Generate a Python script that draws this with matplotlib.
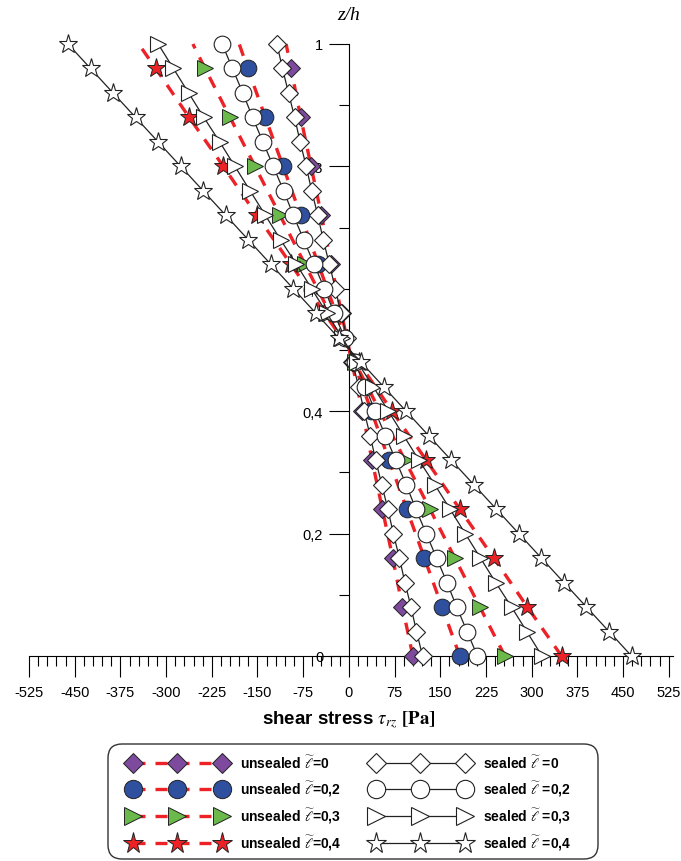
import numpy as np
import matplotlib
matplotlib.use("Agg")
import matplotlib.pyplot as plt
from matplotlib.patches import FancyBboxPatch

plt.rcParams['font.family'] = ['Liberation Sans', 'DejaVu Sans']
plt.rcParams['mathtext.fontset'] = 'stix'
plt.rcParams['axes.unicode_minus'] = False

# z/h levels of the sealed curves (marker every 0.04)
z_sealed = [0.00, 0.04, 0.08, 0.12, 0.16, 0.20, 0.24, 0.28, 0.32, 0.36, 0.40, 0.44, 0.48,
            0.52, 0.56, 0.60, 0.64, 0.68, 0.72, 0.76, 0.80, 0.84, 0.88, 0.92, 0.96, 1.00]
# z/h levels of the unsealed curves (marker every 0.08, line runs to 1)
z_unsealed = [0.00, 0.08, 0.16, 0.24, 0.32, 0.40, 0.48, 0.56, 0.64, 0.72, 0.80, 0.88, 0.96, 1.00]

# shear stress [Pa]
sealed_0 = [121, 111, 102, 92, 83, 73, 64, 54, 44, 35, 25, 16, 6,
            -3, -13, -22, -32, -42, -51, -61, -70, -80, -89, -99, -109, -118]
sealed_02 = [211, 194, 177, 161, 144, 127, 110, 94, 77, 60, 43, 27, 10,
             -7, -24, -40, -57, -74, -91, -107, -124, -141, -158, -174, -191, -208]
sealed_03 = [317, 292, 267, 241, 216, 191, 166, 141, 115, 90, 65, 40, 14,
             -11, -36, -61, -86, -112, -137, -162, -187, -212, -238, -263, -288, -313]
sealed_04 = [464, 427, 390, 353, 316, 279, 242, 205, 168, 131, 94, 57, 20,
             -17, -54, -91, -128, -165, -202, -239, -276, -313, -350, -387, -424, -461]

unsealed_0 = [105, 88, 72, 55, 38, 22, 5, -12, -29, -45, -62, -79, -95, -103]
unsealed_02 = [182, 153, 124, 95, 66, 37, 8, -21, -50, -79, -108, -137, -166, -180]
unsealed_03 = [256, 215, 174, 133, 92, 51, 10, -31, -72, -113, -154, -195, -236, -256]
unsealed_04 = [349, 293, 238, 182, 127, 71, 16, -40, -95, -151, -206, -262, -317, -345]

unsealed_labels = [r'unsealed $\widetilde{\ell}$=0', r'unsealed $\widetilde{\ell}$=0,2',
                   r'unsealed $\widetilde{\ell}$=0,3', r'unsealed $\widetilde{\ell}$=0,4']
sealed_labels = [r'sealed $\widetilde{\ell}$ =0', r'sealed $\widetilde{\ell}$ =0,2',
                 r'sealed $\widetilde{\ell}$ =0,3', r'sealed $\widetilde{\ell}$ =0,4']

x_ticks = [-525, -450, -375, -300, -225, -150, -75, 0, 75, 150, 225, 300, 375, 450, 525]
y_ticks = [0, 0.2, 0.4, 0.6, 0.8, 1]
y_ticklabels = ['0', '0,2', '0,4', '0,6', '0,8', '1']

fig = plt.figure(figsize=(6.81, 8.62), dpi=100)
ax = fig.add_axes([29 / 681, 1 - 657 / 862, 644 / 681, 612 / 862])

red = '#ec2227'
unsealed_style = [('D', '#7e4a9e', 9.0), ('o', '#2f4f9f', 12), ('>', '#6ab94a', 12), ('*', red, 14)]
sealed_style = [('D', 9.0), ('o', 12), ('>', 12), ('*', 14)]

handles = []
for vals, (mk, col, ms), lab in zip([unsealed_0, unsealed_02, unsealed_03, unsealed_04],
                                     unsealed_style, unsealed_labels):
    h, = ax.plot(vals, z_unsealed, color=red, lw=2.4, linestyle=(0, (3.6, 3.0)),
                 marker=mk, ms=ms, mfc=col, mec='#222222', mew=0.7,
                 markevery=slice(0, 13), clip_on=False, zorder=3, label=lab)
    handles.append(h)

for vals, (mk, ms), lab in zip([sealed_0, sealed_02, sealed_03, sealed_04],
                               sealed_style, sealed_labels):
    h, = ax.plot(vals, z_sealed, color='#222222', lw=0.9, marker=mk, ms=ms,
                 mfc='white', mec='#222222', mew=0.8, clip_on=False, zorder=4, label=lab)
    handles.append(h)

# axes through the origin
ax.spines['left'].set_position(('data', 0))
ax.spines['bottom'].set_position(('data', 0))
ax.spines['top'].set_visible(False)
ax.spines['right'].set_visible(False)
ax.spines['left'].set_linewidth(0.8)
ax.spines['bottom'].set_linewidth(0.8)
ax.set_xlim(-525, 532)
ax.set_ylim(0, 1)

ax.set_xticks(x_ticks)
ax.set_xticklabels([str(v) for v in x_ticks])
ax.set_xticks(np.arange(-525, 526, 15), minor=True)
ax.set_yticks(y_ticks)
ax.set_yticklabels(y_ticklabels)
ax.set_yticks(np.arange(0, 1.01, 0.1), minor=True)
ax.tick_params(axis='x', which='major', direction='out', length=15, width=0.8,
               labelsize=10.5, pad=6)
ax.tick_params(axis='x', which='minor', direction='out', length=7, width=0.8)
ax.tick_params(axis='y', which='major', direction='out', length=14.5, width=0.8,
               labelsize=10.5, pad=4)
ax.tick_params(axis='y', which='minor', direction='out', length=7, width=0.8)

ax.set_xlabel(r'shear stress $\tau_{rz}$ $\mathbf{[Pa]}$', fontsize=13.5,
              fontweight='bold')
ax.xaxis.set_label_coords((349 - 29) / 644, -0.086)

fig.text(349 / 681, 1 - 16 / 862, 'z/h', family='Liberation Serif', style='italic',
         fontsize=14, ha='center', va='center')

# legend box drawn by hand so the handles get some room on the left
box = FancyBboxPatch((1.08, 8.62 - 8.60), 4.90, 1.15,
                     boxstyle='round,pad=0,rounding_size=0.14',
                     transform=fig.dpi_scale_trans, facecolor='white',
                     edgecolor='#333333', linewidth=1.0)
fig.patches.append(box)

leg = fig.legend(handles=handles, loc='upper center', bbox_to_anchor=(350 / 681, 1 - 746 / 862),
                 ncol=2, numpoints=3, handlelength=7.0, handletextpad=1.0,
                 columnspacing=2.2, labelspacing=0.56, markerscale=1.1, frameon=False,
                 prop={'weight': 'bold', 'size': 10}, borderpad=0.65, borderaxespad=0)

fig.savefig('out.png', dpi=100)
